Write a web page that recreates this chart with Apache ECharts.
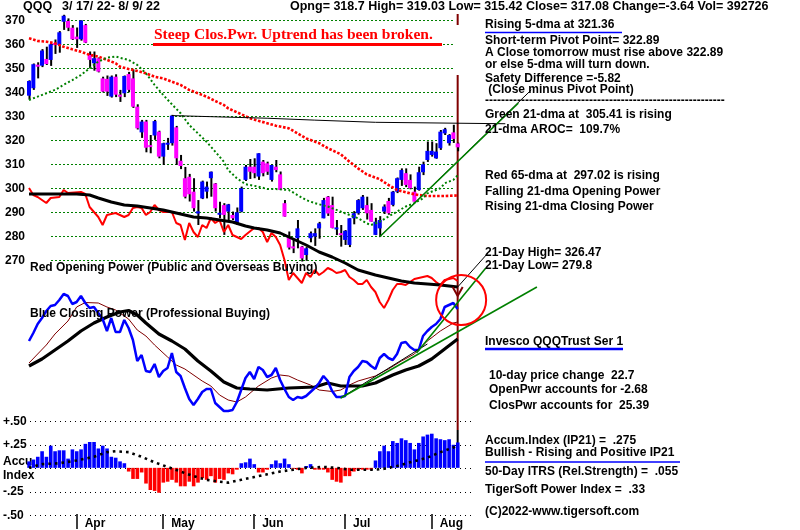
<!DOCTYPE html>
<html>
<head>
<meta charset="utf-8">
<script src="https://cdn.jsdelivr.net/npm/echarts@6/dist/echarts.min.js"></script>
<style>
  html, body { margin: 0; padding: 0; background: #fff; }
  #chart { width: 800px; height: 530px; }
</style>
</head>
<body>
<div id="chart"></div>
<script>
// QQQ daily bars 3/17/22 .. 8/9/22 : [open, high, low, close]
const bars = [
  [338.6, 345.0, 337.0, 344.7], [341.7, 352.0, 341.0, 351.7], [351.5, 352.5, 345.8, 350.8], [351.1, 358.0, 350.5, 357.4],
  [353.9, 359.0, 351.4, 351.8], [353.5, 360.5, 351.0, 360.0], [360.5, 362.0, 356.0, 359.8], [359.7, 365.5, 356.5, 365.0],
  [369.4, 372.3, 366.0, 371.9], [369.7, 370.8, 365.5, 366.9], [366.9, 368.0, 361.8, 362.1], [363.2, 367.0, 358.5, 362.1],
  [362.1, 370.0, 361.5, 369.9], [368.0, 368.5, 360.5, 360.7], [355.6, 357.0, 350.0, 353.5], [352.1, 357.0, 349.0, 354.2],
  [354.2, 354.5, 348.3, 348.6], [345.8, 346.5, 340.0, 340.3], [345.6, 347.0, 338.5, 340.3], [338.2, 347.0, 337.8, 346.5],
  [346.5, 347.5, 338.0, 339.0], [339.0, 341.0, 336.0, 338.2], [339.6, 347.0, 338.0, 346.8], [347.6, 348.5, 340.0, 341.0],
  [345.8, 349.5, 333.5, 334.0], [334.0, 335.0, 324.5, 325.0], [323.3, 328.5, 321.0, 327.8], [327.8, 328.5, 315.0, 316.9],
  [318.0, 322.2, 314.6, 317.4], [322.0, 328.5, 320.2, 328.0], [323.6, 324.0, 312.5, 313.2], [313.2, 319.0, 309.7, 318.8],
  [318.4, 321.0, 316.0, 319.0], [318.8, 330.6, 317.8, 330.3], [325.4, 326.0, 309.7, 312.5], [311.5, 313.9, 308.0, 309.3],
  [304.2, 308.9, 295.8, 296.5], [304.8, 306.0, 294.5, 297.5], [298.6, 304.2, 290.3, 291.7], [289.5, 295.1, 284.7, 290.4],
  [295.8, 303.2, 295.5, 302.8], [298.6, 302.8, 295.8, 300.7], [304.2, 307.0, 296.5, 306.9], [302.0, 302.2, 290.3, 291.7],
  [289.4, 294.4, 287.5, 289.8], [293.0, 293.8, 280.6, 288.9], [290.3, 293.5, 286.1, 293.3], [288.9, 290.3, 286.8, 287.5],
  [285.4, 292.0, 284.7, 290.0], [290.3, 300.7, 290.0, 300.0], [303.5, 309.7, 303.0, 309.0], [309.0, 312.2, 303.9, 306.9],
  [309.0, 312.5, 304.2, 306.3], [304.9, 314.6, 303.5, 314.6], [311.1, 311.8, 305.0, 306.3], [310.4, 311.1, 305.6, 306.9],
  [303.5, 309.9, 302.8, 309.7], [309.0, 311.8, 306.7, 307.6], [305.8, 307.0, 299.3, 299.3], [293.8, 295.1, 288.2, 288.2],
  [279.4, 282.0, 274.5, 275.3], [275.8, 279.0, 273.0, 275.0], [279.2, 286.8, 275.0, 283.3], [275.7, 276.0, 269.5, 270.8],
  [272.2, 275.5, 269.8, 275.0], [279.2, 282.0, 277.5, 281.3], [279.9, 283.3, 276.0, 281.3], [283.3, 286.0, 279.0, 285.4],
  [287.5, 296.0, 287.5, 295.1], [296.5, 296.8, 288.5, 289.5], [293.0, 296.5, 283.3, 283.5], [283.0, 286.8, 280.5, 283.7],
  [281.3, 284.7, 275.7, 280.6], [278.5, 282.6, 276.4, 282.3], [276.4, 287.5, 275.5, 287.5], [287.5, 290.5, 285.0, 289.6],
  [289.6, 295.5, 289.0, 295.1], [291.7, 297.2, 291.0, 296.5], [293.0, 296.5, 287.0, 289.6], [291.0, 293.8, 286.1, 286.1],
  [280.6, 287.7, 280.5, 286.1], [283.3, 288.4, 279.8, 286.8], [290.3, 293.3, 289.3, 292.4], [294.7, 296.0, 289.0, 289.6],
  [293.1, 298.9, 292.5, 298.6], [298.6, 304.5, 298.0, 304.2], [303.5, 308.3, 301.0, 307.6], [306.3, 308.3, 300.5, 301.4],
  [303.5, 305.8, 299.6, 300.0], [298.6, 300.7, 294.4, 294.4], [299.3, 309.0, 299.0, 306.7], [306.7, 311.1, 305.5, 310.0],
  [311.8, 319.5, 311.0, 315.6], [313.9, 319.5, 313.2, 315.6], [312.5, 318.8, 312.3, 315.3], [316.7, 324.3, 316.0, 323.6],
  [322.9, 325.2, 322.2, 324.6], [318.8, 322.6, 317.8, 322.2], [323.3, 326.47, 318.9, 320.6], [318.7, 319.03, 315.42, 317.08]
];

// moving averages: [day, price]
const ma21 = [[0, 336.8], [2, 338.2], [4, 339.6], [6, 341], [8, 343.1], [10, 345.1], [12, 347.2], [14, 350], [16, 352.8],
  [18, 354.4], [20, 354.9], [21, 354.4], [23, 353.5], [25, 351.4], [27, 347.9], [29, 343.1], [31, 338.9], [33, 335],
  [35, 331.3], [37, 326.4], [39, 322.9], [41, 319.4], [43, 315.3], [45, 311.1], [46, 307.6], [48, 304.2], [50, 301.7],
  [53, 300.7], [55, 299.7], [57, 299.7], [60, 299.3], [62, 297.2], [64, 295.1], [66, 293.8], [69, 292.4], [71, 291],
  [73, 289.6], [76, 287.5], [78, 285.4], [79, 284.7], [81, 286.1], [83, 288.2], [85, 290.3], [87, 292.4], [89, 293.8],
  [91, 295.8], [92, 297.9], [95, 300], [96, 302.1], [98, 303.5], [99, 305.41]];
const ma65 = [[0, 362.5], [2, 361.4], [4, 361.1], [6, 360.4], [8, 359], [10, 357.9], [12, 356.9], [14, 355.6], [16, 354.9],
  [18, 353.5], [20, 352.1], [21, 350.7], [23, 349.7], [25, 348.9], [27, 347.9], [29, 346.5], [31, 345.8], [33, 344.4],
  [35, 343.1], [37, 341], [39, 339.6], [41, 338.2], [43, 336.4], [45, 334.7], [46, 333.3], [48, 331.7], [51, 329.2],
  [53, 328.1], [55, 327.1], [57, 326.1], [60, 325], [62, 322.9], [64, 320.8], [67, 318.8], [69, 316.7], [72, 314.2],
  [74, 311.1], [76, 308.3], [78, 305.8], [81, 303.8], [83, 301.4], [85, 299.3], [88, 297.9], [90, 297.2], [92, 296.8],
  [96, 296.8], [99, 297.02]];

// drawn lines on the price panel
const resistLine = [[33, 330.3], [55, 329.2], [66, 328.4], [80, 327.5], [110, 326.9]];
const priceTrend = [[81, 279.8], [113, 335.5]];
const priceTrendThin = [[81, 279.8], [116, 341]];

// Opening Power (red) and its 21-dma (black), panel units
const openPwr = [[0, 132], [1, 125], [2, 123], [4, 117], [5, 122], [7, 123], [8, 130], [9, 127], [12, 128], [13, 126],
  [14, 113], [15, 108], [16, 103], [17, 95], [18, 105], [20, 107], [21, 105], [22, 103], [23, 105], [24, 112], [25, 113],
  [26, 112], [27, 105], [28, 108], [29, 115], [30, 110], [31, 108], [33, 108], [34, 97], [35, 95], [36, 80], [37, 97],
  [38, 88], [39, 83], [40, 95], [41, 92], [42, 102], [43, 97], [44, 100], [45, 88], [46, 95], [47, 85], [49, 81],
  [50, 85], [52, 92], [53, 92], [54, 88], [55, 78], [56, 87], [57, 83], [58, 75], [59, 60], [60, 40], [61, 47], [62, 42],
  [63, 37], [64, 47], [65, 43], [66, 50], [67, 45], [68, 48], [69, 52], [70, 50], [71, 47], [72, 48], [73, 50], [74, 43],
  [75, 40], [76, 36], [77, 36], [78, 40], [79, 33], [80, 28], [81, 18], [82, 12], [83, 20], [84, 30], [85, 36], [86, 36],
  [87, 35], [88, 38], [89, 41], [90, 42], [91, 43], [92, 44], [93, 42], [94, 38], [95, 35], [96, 40], [97, 41], [98, 42],
  [99, 39]];
const openPwrMa = [[0, 126], [7, 126], [11, 126], [14, 125], [16, 122], [19, 118], [22, 115], [25, 114], [28, 112],
  [31, 110], [34, 107], [38, 103], [41, 102], [44, 100], [47, 98], [50, 94], [52, 92], [55, 90], [58, 87], [61, 81],
  [64, 75], [67, 68], [70, 63], [73, 57], [76, 50], [80, 45], [83, 42], [86, 39], [89, 37], [92, 36], [95, 35], [99, 33]];

// Closing Power (blue), its 21-dma (black) and fast ma (dark red)
const closePwr = [89, 97, 106, 112, 119, 124, 125, 130, 136, 134, 126, 128, 134, 127, 122, 123, 117, 111, 99, 112,
  98, 98, 110, 102, 90, 69, 75, 59, 58, 66, 53, 59, 62, 77, 58, 54, 42, 31, 25, 31,
  38, 41, 41, 27, 23, 19, 19, 20, 28, 40, 52, 58, 51, 63, 60, 53, 55, 62, 50, 41,
  33, 30, 33, 32, 34, 38, 42, 47, 54, 49, 39, 33, 33, 34, 53, 59, 63, 69, 68, 64,
  61, 72, 76, 72, 70, 76, 87, 88, 83, 80, 80, 94, 99, 103, 106, 111, 123, 125, 127, 121];
const closePwrMa = [[0, 64], [3, 71], [6, 80], [9, 89], [12, 99], [15, 107], [18, 113], [21, 118], [23, 119.5], [25, 115],
  [27, 107], [30, 96], [33, 89], [36, 81], [39, 69], [42, 59], [45, 48], [48, 42], [51, 41], [55, 40], [60, 42], [66, 43],
  [69, 47], [72, 44], [77, 44], [80, 47], [84, 55], [87, 60], [90, 64], [93, 71], [96, 81], [99, 91]];
const closePwrFast = [[0, 67], [2, 76], [4, 85], [6, 96], [9, 109], [11, 123], [13, 127.5], [16, 127], [18, 123], [20, 120],
  [23, 111], [25, 100], [27, 94], [29, 85], [32, 73], [34, 65], [36, 61], [40, 49], [42, 44], [44, 35], [46, 30], [48, 28],
  [50, 33], [53, 44], [56, 52], [58, 55], [60, 54], [62, 50], [65, 45], [67, 40], [70, 38.5], [72, 40], [74, 45], [76, 49],
  [80, 54], [83, 61], [86, 69], [89, 76], [92, 89], [95, 99], [98, 107], [99, 108]];
const cpTrendLong = [[72, 32], [117.3, 143]];
const cpTrendSteep = [[89.5, 77], [105.5, 162]];
const cpTrendThin = [[72, 32], [92, 86]];
const cpTrendThin2 = [[99, 143], [106, 177]];

// Accumulation Index (IP21) and its moving average
const accum = [0.07, 0.09, 0.12, 0.18, 0.12, 0.24, 0.18, 0.19, 0.19, 0.10,
  0.20, 0.18, 0.20, 0.26, 0.28, 0.28, 0.21, 0.24, 0.21, 0.12,
  0.11, 0.07, 0.05, -0.04, -0.12, -0.12, -0.05, -0.17, -0.24, -0.25,
  -0.27, -0.16, -0.15, -0.13, -0.16, -0.20, -0.20, -0.15, -0.20, -0.16,
  -0.11, -0.13, -0.09, -0.16, -0.12, -0.13, -0.06, -0.07, -0.02, 0.05,
  0.06, 0.10, 0.04, -0.05, -0.05, -0.02, 0.04, 0.08, 0.05, 0.10,
  0.04, -0.01, -0.02, -0.06, 0.02, 0.04, -0.02, -0.02, -0.02, -0.05,
  -0.13, -0.15, -0.16, -0.09, -0.09, -0.04, -0.02, -0.02, -0.02, -0.02,
  0.08, 0.18, 0.24, 0.18, 0.29, 0.27, 0.32, 0.30, 0.27, 0.20,
  0.27, 0.34, 0.36, 0.37, 0.32, 0.31, 0.30, 0.31, 0.25, 0.275];
const accumMa = [[0, 0], [3, 0.04], [7, 0.05], [11, 0.08], [15, 0.12], [18, 0.17], [20, 0.18], [23, 0.17], [26, 0.12],
  [29, 0.06], [32, 0.01], [35, -0.04], [38, -0.09], [41, -0.13], [44, -0.15], [46, -0.16], [49, -0.13], [52, -0.1],
  [55, -0.07], [58, -0.04], [61, -0.02], [64, 0], [68, 0.01], [71, 0], [74, -0.02], [77, -0.02], [80, -0.02],
  [82, -0.01], [85, 0.02], [88, 0.06], [92, 0.11], [95, 0.17], [98, 0.22], [99, 0.25]];

const monthTicks = [11, 31, 52, 73, 93];
const monthNames = ['Apr', 'May', 'Jun', 'Jul', 'Aug'];
const accumLabels = {'0.5': '+.50', '0.25': '+.25', '0': 'Accu\nIndex', '-0.25': '-.25', '-0.5': '-.50'};

const FONT = 'Liberation Sans';
const BLUE = '#0000ff', MAGENTA = '#ff00ff', RED = '#ff0000', GREEN = '#008000', DARKRED = '#800000';
const DAY_PX = 4.33;
const DATA_LEFT = 29 - DAY_PX / 2;
const X_MAX = 125;
const DATA_W = (X_MAX + 0.5) * DAY_PX;

const chart = echarts.init(document.getElementById('chart'), null, {renderer: 'canvas'});

const hidden = {show: false};
const dayAxis = (gi) => ({type: 'value', gridIndex: gi, min: -0.5, max: X_MAX, show: false});
const lineS = (xi, yi, data, color, width, type, z) => ({
  type: 'line', xAxisIndex: xi, yAxisIndex: yi, data, showSymbol: false, silent: true, animation: false,
  lineStyle: {color, width, type: type || 'solid'}, z: z || 3
});

const option = {
  animation: false,
  backgroundColor: '#fff',
  grid: [
    {left: 51, top: 20.3, width: 402, height: 240},          // 0 price gridlines
    {left: DATA_LEFT, top: 20.3, width: DATA_W, height: 240}, // 1 price data
    {left: DATA_LEFT, top: 170, width: DATA_W, height: 150},  // 2 opening power
    {left: DATA_LEFT, top: 230, width: DATA_W, height: 200},  // 3 closing power
    {left: 30, top: 421.7, width: 445, height: 93.6},         // 4 accum gridlines
    {left: DATA_LEFT, top: 421.7, width: DATA_W, height: 93.6} // 5 accum data
  ],
  xAxis: [
    {type: 'value', gridIndex: 0, min: 0, max: 1, show: false},
    dayAxis(1), dayAxis(2), dayAxis(3),
    {type: 'value', gridIndex: 4, min: 0, max: 1, show: false},
    {
      type: 'value', gridIndex: 5, min: -0.5, max: X_MAX, position: 'bottom',
      axisLine: {show: false, onZero: false}, splitLine: hidden,
      axisTick: {show: true, customValues: monthTicks, length: 15, lineStyle: {color: '#000', width: 1.5}},
      axisLabel: {
        show: true, customValues: monthTicks, margin: 4, align: 'left', padding: [0, 0, 0, 8],
        formatter: (v) => monthNames[monthTicks.indexOf(v)] || '',
        fontFamily: FONT, fontWeight: 'bold', fontSize: 12, color: '#000'
      }
    }
  ],
  yAxis: [
    {
      type: 'value', gridIndex: 0, min: 270, max: 370, interval: 10,
      axisLine: hidden, axisTick: hidden,
      splitLine: {show: true, lineStyle: {color: GREEN, width: 1, type: [2, 2]}},
      axisLabel: {margin: 26, fontFamily: FONT, fontWeight: 'bold', fontSize: 12, color: '#000'}
    },
    {type: 'value', gridIndex: 1, min: 270, max: 370, show: false},
    {type: 'value', gridIndex: 2, min: 0, max: 150, show: false},
    {type: 'value', gridIndex: 3, min: 0, max: 200, show: false},
    {
      type: 'value', gridIndex: 4, min: -0.5, max: 0.5, interval: 0.25,
      axisLine: hidden, axisTick: hidden,
      splitLine: {show: true, lineStyle: {color: '#000', width: 1, type: [1, 4]}},
      axisLabel: {
        margin: 27, align: 'left', lineHeight: 14,
        formatter: (v) => accumLabels[String(v)] || '',
        fontFamily: FONT, fontWeight: 'bold', fontSize: 12, color: '#000'
      }
    },
    {type: 'value', gridIndex: 5, min: -0.5, max: 0.5, show: false}
  ],
  series: [
    // price bars
    {
      type: 'custom', xAxisIndex: 1, yAxisIndex: 1, silent: true, z: 2,
      data: bars.map((b, i) => [i, b[0], b[1], b[2], b[3]]),
      encode: {x: 0, y: [1, 2, 3, 4]},
      renderItem: (params, api) => {
        const i = api.value(0), o = api.value(1), h = api.value(2), l = api.value(3), c = api.value(4);
        const pH = api.coord([i, h]), pL = api.coord([i, l]);
        const pO = api.coord([i, o]), pC = api.coord([i, c]);
        const x = pO[0];
        const top = Math.min(pO[1], pC[1]);
        const hgt = Math.max(Math.abs(pC[1] - pO[1]), 2);
        return {
          type: 'group', children: [
            {type: 'rect', shape: {x: x - 0.5, y: pH[1], width: 2, height: pL[1] - pH[1]}, style: {fill: '#000'}},
            {type: 'rect', shape: {x: x - 2, y: top, width: 4, height: hgt}, style: {fill: c >= o ? BLUE : MAGENTA}}
          ]
        };
      }
    },
    lineS(1, 1, ma65, RED, 2.6, [2.6, 1.7], 4),
    lineS(1, 1, ma21, GREEN, 2, [2, 2.3], 4),
    lineS(1, 1, resistLine, '#000', 1, 'solid', 4),
    lineS(1, 1, priceTrendThin, '#000', 1, 'solid', 4),
    lineS(1, 1, priceTrend, GREEN, 1.5, 'solid', 5),
    // opening power
    lineS(2, 2, openPwr, RED, 2, 'solid', 6),
    lineS(2, 2, openPwrMa, '#000', 3, 'solid', 6),
    // closing power
    lineS(3, 3, closePwrFast, DARKRED, 1, 'solid', 6),
    lineS(3, 3, closePwrMa, '#000', 3.2, 'solid', 6),
    lineS(3, 3, closePwr.map((v, i) => [i, v]), BLUE, 2.5, 'solid', 7),
    lineS(3, 3, cpTrendThin, '#000', 1, 'solid', 7),
    lineS(3, 3, cpTrendThin2, '#000', 1, 'solid', 7),
    lineS(3, 3, cpTrendLong, GREEN, 1.6, 'solid', 8),
    lineS(3, 3, cpTrendSteep, GREEN, 1.6, 'solid', 8),
    // accumulation index
    {
      type: 'custom', xAxisIndex: 5, yAxisIndex: 5, silent: true, z: 2,
      data: accum.map((v, i) => [i, v]),
      encode: {x: 0, y: 1},
      renderItem: (params, api) => {
        const i = api.value(0), v = api.value(1);
        const p0 = api.coord([i, 0]), p1 = api.coord([i, v]);
        return {
          type: 'rect',
          shape: {x: p0[0] - 1.7, y: Math.min(p0[1], p1[1]), width: 3.6, height: Math.abs(p1[1] - p0[1])},
          style: {fill: v >= 0 ? BLUE : RED}
        };
      }
    },
    lineS(5, 5, accumMa, '#000', 2.6, [2.6, 4], 4)
  ]
};

chart.setOption(option);

// annotations placed through the axes
const lastX = chart.convertToPixel({gridIndex: 1}, [bars.length - 1, 300])[0];
const ring = chart.convertToPixel({gridIndex: 3}, [bars.length - 0.2, 130]);
const arrowTip = chart.convertToPixel({gridIndex: 3}, [bars.length - 1, 134]);

const txt = (text, x, y, extra) => ({
  type: 'text', x, y, z: 20, silent: true,
  style: Object.assign({text, fill: '#000', font: 'bold 12px "' + FONT + '"', verticalAlign: 'middle'}, extra || {})
});
const hline = (x1, x2, y, color, w) => ({
  type: 'line', z: 20, silent: true, shape: {x1, y1: y, x2, y2: y}, style: {stroke: color, lineWidth: w}
});
const TOPFONT = 'bold 12.5px "' + FONT + '"';

const graphics = [
  {type: 'line', z: 1, silent: true, shape: {x1: lastX, y1: 14, x2: lastX, y2: 25}, style: {stroke: DARKRED, lineWidth: 2}},
  {type: 'line', z: 1, silent: true, shape: {x1: lastX, y1: 75, x2: lastX, y2: 430}, style: {stroke: DARKRED, lineWidth: 2}},
  {type: 'line', z: 1, silent: true, shape: {x1: lastX, y1: 430, x2: lastX, y2: 462}, style: {stroke: '#000', lineWidth: 2}},
  {type: 'polyline', z: 9, silent: true,
    shape: {points: [[arrowTip[0] - 5, arrowTip[1] - 9], [arrowTip[0], arrowTip[1]], [arrowTip[0] + 5, arrowTip[1] - 9]]},
    style: {stroke: DARKRED, lineWidth: 2, fill: null}},
  {type: 'circle', z: 9, silent: true, shape: {cx: ring[0], cy: ring[1], r: 25}, style: {stroke: RED, lineWidth: 2, fill: null}},

  txt('QQQ', 23, 7, {font: TOPFONT}),
  txt('3/ 17/ 22- 8/ 9/ 22', 62, 7, {font: TOPFONT}),
  txt('Opng= 318.7 High= 319.03 Low= 315.42 Close= 317.08 Change=-3.64 Vol= 392726', 290, 7, {font: TOPFONT}),

  txt('Steep Clos.Pwr. Uptrend has been broken.', 154, 35, {fill: RED, font: 'bold 15.5px "Liberation Serif"'}),
  hline(153, 442, 44.5, RED, 3),

  txt('Red Opening Power (Public and Overseas Buying)', 30, 268),
  txt('Blue Closing Power (Professional Buying)', 30, 314),

  txt('Rising 5-dma at 321.36', 485, 25),
  hline(485, 622, 32.5, BLUE, 1.5),
  txt('Short-term Pivot Point= 322.89', 485, 40.7),
  txt('A Close tomorrow must rise above 322.89', 485, 52.7),
  txt('or else 5-dma will turn down.', 485, 65),
  txt('Safety Difference =-5.82', 485, 78.3),
  txt(' (Close minus Pivot Point)', 485, 90),
  txt('-'.repeat(60), 485, 101),
  txt('Green 21-dma at  305.41 is rising', 485, 115),
  txt('21-dma AROC=  109.7%', 485, 129.3),
  txt('Red 65-dma at  297.02 is rising', 485, 175.7),
  txt('Falling 21-dma Opening Power', 485, 191.7),
  txt('Rising 21-dma Closing Power', 485, 206.7),
  txt('21-Day High= 326.47', 485, 252.3),
  txt('21-Day Low= 279.8', 485, 265.7),
  txt('Invesco QQQTrust Ser 1', 485, 341.7),
  hline(485, 623, 349, BLUE, 2.5),
  txt('10-day price change  22.7', 489, 375.5),
  txt('OpenPwr accounts for -2.68', 489, 389.5),
  txt('ClosPwr accounts for  25.39', 489, 405.7),
  txt('Accum.Index (IP21) =  .275', 485, 441),
  txt('Bullish - Rising and Positive IP21', 485, 452.7),
  hline(485, 680, 462, BLUE, 1.5),
  txt('50-Day ITRS (Rel.Strength) =  .055', 485, 471.7),
  txt('TigerSoft Power Index =  .33', 485, 490),
  txt('(C)2022-www.tigersoft.com', 485, 511.7)
];

chart.setOption({graphic: graphics});
</script>
</body>
</html>
